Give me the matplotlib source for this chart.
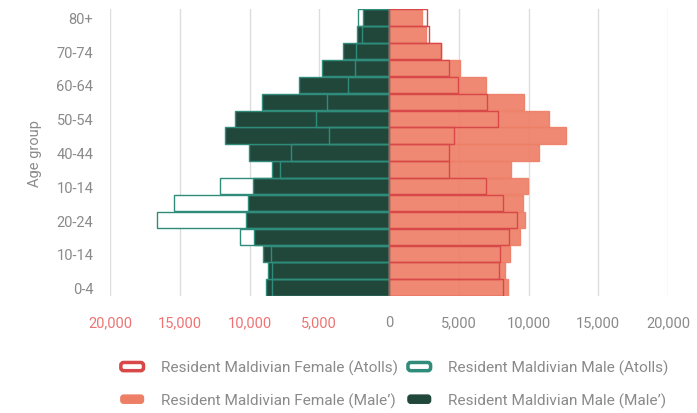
import numpy as np
import matplotlib
matplotlib.use('Agg')
import matplotlib.pyplot as plt
from matplotlib.patches import Patch, FancyBboxPatch
from matplotlib.legend_handler import HandlerPatch

# age groups, bottom to top
age_groups = ['0-4', '5-9', '10-14', '15-19', '20-24', '25-29', '30-34', '35-39', '40-44',
              '45-49', '50-54', '55-59', '60-64', '65-69', '70-74', '75-79', '80+']
# labels as printed on the chart (every other group)
tick_labels = ['0-4', '10-14', '20-24', '10-14', '40-44', '50-54', '60-64', '70-74', '80+']

male_atolls = [8380, 8360, 8470, 10710, 16620, 15430, 12090, 7810, 7020,
               4290, 5240, 4470, 2970, 2450, 2330, 1950, 2210]
male_male = [8810, 8640, 9040, 9710, 10260, 10090, 9760, 8400, 10070,
             11740, 11020, 9090, 6450, 4790, 3330, 2290, 1860]
female_atolls = [8140, 7880, 7930, 8620, 9210, 8140, 6950, 4290, 4290,
                 4640, 7790, 7000, 4960, 4290, 3750, 2860, 2710]
female_male = [8530, 8340, 8640, 9400, 9740, 9620, 9930, 8740, 10760,
               12690, 11480, 9710, 6960, 5120, 3700, 2620, 2390]

x_ticks = [-20000, -15000, -10000, -5000, 0, 5000, 10000, 15000, 20000]

dark = '#21473b'
teal = '#2f8b7a'
salmon = '#ee7f67'
red = '#d94848'
grey = '#8a8a8a'
pink_text = '#ee7474'

plt.rcParams['font.family'] = ['Roboto', 'DejaVu Sans']

fig = plt.figure(figsize=(6.97, 4.14), dpi=100)
ax = fig.add_axes([110 / 697, 1 - 297 / 414, 558 / 697, 287 / 414])

y = np.arange(len(age_groups))
h = 0.97

# male side (negative)
ax.barh(y, -np.array(male_atolls), h, color='white', edgecolor='none', zorder=1.5)
ax.barh(y, -np.array(male_male), h, color=dark, edgecolor=teal, linewidth=1, zorder=2)
ax.barh(y, -np.array(male_atolls), h, color='none', edgecolor=teal, linewidth=1, zorder=3)

# female side (positive)
ax.barh(y, female_male, h, color=salmon, edgecolor=salmon, linewidth=1, alpha=0.92, zorder=2)
ax.barh(y, female_atolls, h, color='none', edgecolor=red, linewidth=1, zorder=3)

ax.set_xlim(-20000, 20000)
ax.set_ylim(-0.5, len(age_groups) - 0.5)
ax.set_xticks(x_ticks)
ax.set_xticklabels(['{:,}'.format(abs(v)) for v in x_ticks])
for lab, v in zip(ax.get_xticklabels(), x_ticks):
    lab.set_color(pink_text if v < 0 else grey)
ax.set_yticks(y[::2])
ax.set_yticklabels(tick_labels, color=grey)
ax.tick_params(axis='both', length=0, labelsize=10.5)
ax.tick_params(axis='x', pad=14)
ax.tick_params(axis='y', pad=12)
ax.set_ylabel('Age group', color=grey, fontsize=10.5, labelpad=10)

ax.grid(axis='x', color='#dddddd', linewidth=1, zorder=0)
ax.set_axisbelow(True)
for s in ax.spines.values():
    s.set_visible(False)


def rounded(legend, orig_handle, xdescent, ydescent, width, height, fontsize):
    return FancyBboxPatch((-xdescent + 1, -ydescent + 1), width - 2, height - 2,
                          boxstyle='round,pad=0,rounding_size=2')


# legend fills columns first: female column, then male column
handles = [
    Patch(facecolor='white', edgecolor=red, linewidth=2.5),
    Patch(facecolor=salmon, edgecolor=salmon, linewidth=1),
    Patch(facecolor='white', edgecolor=teal, linewidth=2.5),
    Patch(facecolor=dark, edgecolor=dark, linewidth=1),
]
labels = ['Resident Maldivian Female (Atolls)', 'Resident Maldivian Female (Male\u2019)',
          'Resident Maldivian Male (Atolls)', 'Resident Maldivian Male (Male\u2019)']

leg = fig.legend(handles, labels, ncol=2, loc='center',
                 bbox_to_anchor=(394 / 697, 1 - 385 / 414), frameon=False,
                 fontsize=11.1, handlelength=1.65, handleheight=0.72, handletextpad=1.05,
                 columnspacing=0.55, labelspacing=1.12,
                 handler_map={Patch: HandlerPatch(patch_func=rounded)})
for t in leg.get_texts():
    t.set_color(grey)

fig.savefig('out.png', dpi=100)
